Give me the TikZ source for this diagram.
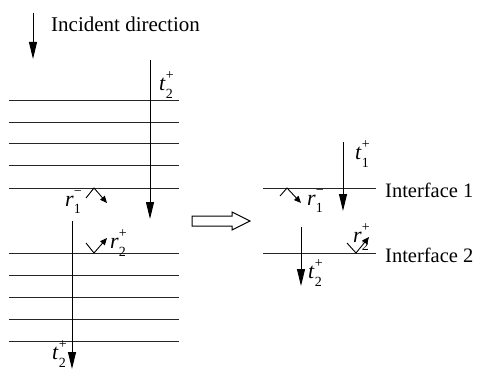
\documentclass[tikz,border=0pt]{standalone}
\usepackage{fontspec}
\setmainfont{Liberation Serif}
\usetikzlibrary{arrows.meta}
\newcommand{\lbl}[3]{\textit{#1}\rlap{\raisebox{0.5em}{\fontsize{14}{14}\selectfont #3}}\raisebox{-0.35em}{\fontsize{14}{14}\selectfont #2}}
\tikzset{
  layer/.style={line width=1pt, black!85},
  ray/.style={line width=1pt, -{Triangle[length=17pt,width=8pt]}},
  refl/.style={line width=0.9pt, -{Triangle[length=7pt,width=6pt]}},
  lab/.style={inner sep=0pt, font=\fontsize{22}{24}\selectfont},
  txt/.style={inner sep=0pt, anchor=west, font=\fontsize{21}{24}\selectfont},
}
\begin{document}
\begin{tikzpicture}[x=1pt,y=-1pt]
\useasboundingbox (0,0) rectangle (478,369);
% incident direction
\coordinate (i0) at (33,13); \coordinate (i1) at (33,59);
\draw[ray] (i0) -- (i1);
\node[txt] (inc) at (51,24) {Incident direction};
% top stack
\foreach \y in {100,122,143,165,188} \draw[layer] (9,\y) -- (179,\y);
% bottom stack
\foreach \y in {253,275,297,319,341} \draw[layer] (9,\y) -- (179,\y);
% left t2+ (top)
\coordinate (a0) at (150,60); \coordinate (a1) at (150,219);
\draw[ray] (a0) -- (a1);
\node[lab] (lt2a) at (166,85) {\lbl{t}{2}{+}};
% left r1-
\coordinate (b0) at (86,198); \coordinate (b1) at (94,188); \coordinate (b2) at (107,203);
\draw[refl] (b0) -- (b1) -- (b2);
\node[lab] (lr1) at (73,202) {\lbl{r}{1}{−}};
% left bottom t2+
\coordinate (c0) at (72,221); \coordinate (c1) at (72,369);
\draw[ray] (c0) -- (c1);
\node[lab] (lt2b) at (59,354) {\lbl{t}{2}{+}};
% left r2+
\coordinate (d0) at (86,243); \coordinate (d1) at (94,253); \coordinate (d2) at (107,238);
\draw[refl] (d0) -- (d1) -- (d2);
\node[lab] (lr2) at (118,243) {\lbl{r}{2}{+}};
% hollow arrow
\draw[line width=1pt, fill=white] (192,216) -- (232,216) -- (232,212) -- (250,221) -- (232,230) -- (232,226) -- (192,226) -- cycle;
% right side
\coordinate (f1a) at (263,188); \coordinate (f1b) at (376,188);
\coordinate (f2a) at (263,253); \coordinate (f2b) at (376,253);
\draw[layer] (f1a) -- (f1b);
\draw[layer] (f2a) -- (f2b);
\node[txt, font=\fontsize{20.5}{24}\selectfont] (if1) at (385,190) {Interface 1};
\node[txt, font=\fontsize{20.5}{24}\selectfont] (if2) at (385,255) {Interface 2};
% t1+
\coordinate (g0) at (343,142); \coordinate (g1) at (343,211);
\draw[ray] (g0) -- (g1);
\node[lab] (rt1) at (362,154) {\lbl{t}{1}{+}};
% right r1-
\coordinate (h0) at (280,196); \coordinate (h1) at (287,188); \coordinate (h2) at (301,203);
\draw[refl] (h0) -- (h1) -- (h2);
\node[lab] (rr1) at (315,201) {\lbl{r}{1}{−}};
% right t2+
\coordinate (k0) at (301,227); \coordinate (k1) at (301,286);
\draw[ray] (k0) -- (k1);
\node[lab] (rt2) at (315,273) {\lbl{t}{2}{+}};
% right r2+
\coordinate (m0) at (347,243); \coordinate (m1) at (356,253); \coordinate (m2) at (369,237);
\draw[refl] (m0) -- (m1) -- (m2);
\node[lab] (rr2) at (361,237) {\lbl{r}{2}{+}};
\end{tikzpicture}
\end{document}
